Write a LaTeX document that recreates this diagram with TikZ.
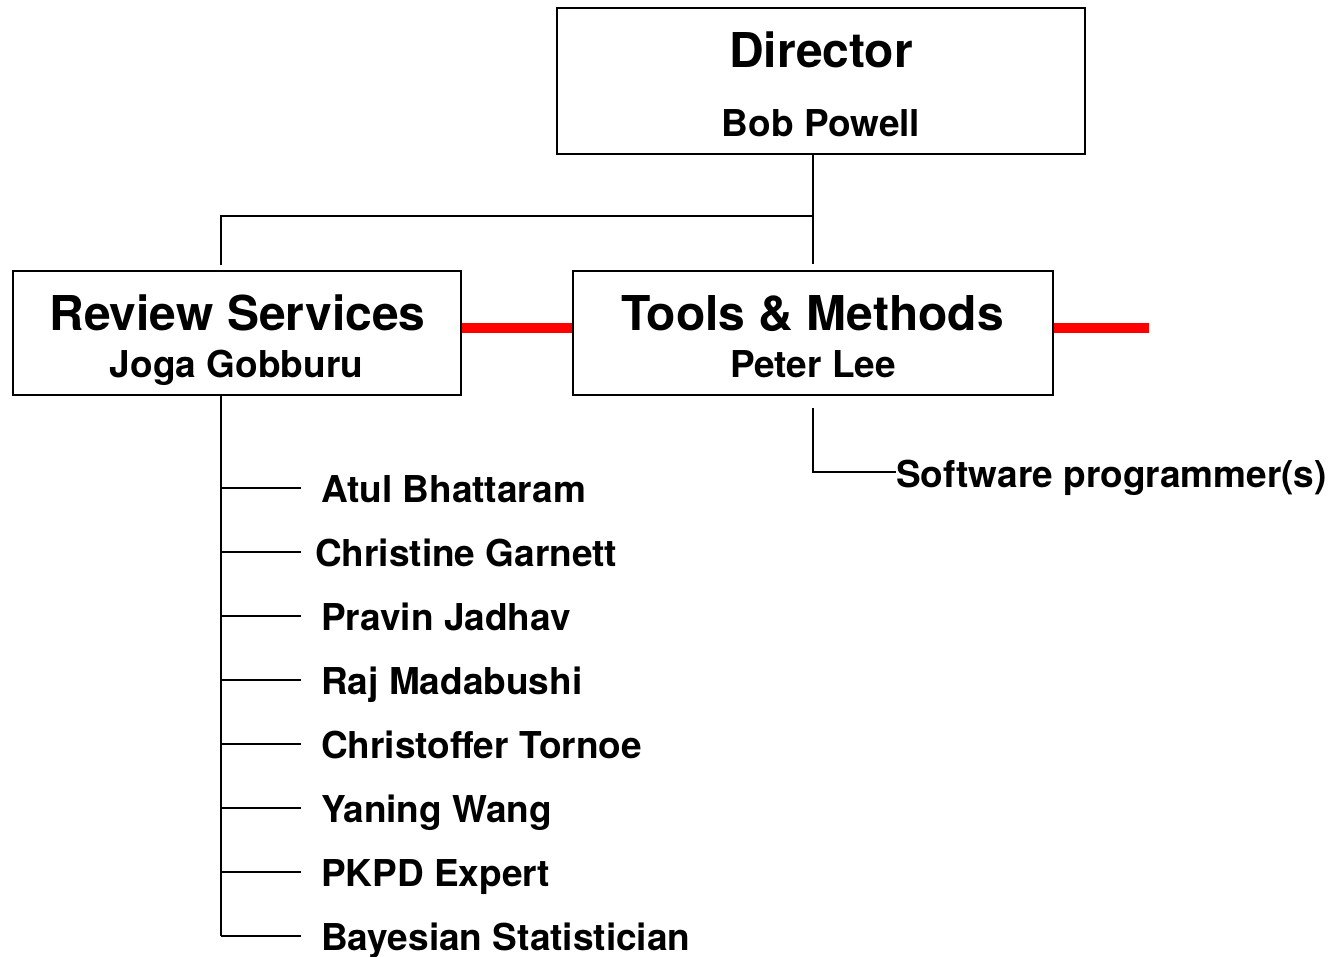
\documentclass[tikz,border=0pt]{standalone}
\usepackage{fontspec}
\setmainfont{TeX Gyre Heros}
\tikzset{
  unit/.style={shape=rectangle,draw=black,line width=1.5pt,inner sep=0pt},
  title/.style={font=\bfseries\fontsize{48pt}{56pt}\selectfont,inner sep=0pt,anchor=base},
  head/.style={font=\bfseries\fontsize{37pt}{44pt}\selectfont,inner sep=0pt,anchor=base},
  member/.style={font=\bfseries\fontsize{37pt}{44pt}\selectfont,inner sep=0pt,anchor=base west},
  link/.style={draw=black,line width=1.3pt},
  redbar/.style={draw=red,line width=10pt}
}

\begin{document}
\begin{tikzpicture}[x=1pt,y=-1pt]
\useasboundingbox (0,0) rectangle (1332,956);

% boxes
\node[unit,minimum width=528pt,minimum height=146pt] (dir) at (821,81) {};
\node[unit,minimum width=448pt,minimum height=124pt] (rev) at (237,333) {};
\node[unit,minimum width=480pt,minimum height=124pt] (tools) at (813,333) {};

% box texts
\node[title] (dirtitle) at (821,67) {Director};
\node[head] (dirname) at (821,136) {Bob Powell};
\node[title] (revtitle) at (237.5,330) {Review Services};
\node[head] (revname) at (236.5,377) {Joga Gobburu};
\node[title] (toolstitle) at (812.5,330) {Tools \& Methods};
\node[head] (toolsname) at (813,377) {Peter Lee};

% tree from the director
\coordinate (hub) at (813,216);
\coordinate (revtop) at (221,265);
\path [link] (dir.south -| hub) -- ([yshift=6pt]tools.north);
\path [link] (revtop) |- (hub);

% red bars
\coordinate (redend) at (1149,328);
\path [redbar] (rev.east |- redend) -- (tools.west |- redend);
\path [redbar] (tools.east |- redend) -- (redend);

% tools staff
\node[member] (soft) at (896,487) {Software programmer(s)};
\coordinate (toolsfoot) at (813,408);
\path [link] (toolsfoot) |- ([yshift=15pt]soft.base west);

% review staff
\coordinate (revbus) at (221,395);
\coordinate (revend) at (221,936);
\path [link] (revbus) -- (revend);
\foreach \who/\dx [count=\i] in {Atul Bhattaram/321,Christine Garnett/315,Pravin Jadhav/321,Raj Madabushi/321,Christoffer Tornoe/321,Yaning Wang/321,PKPD Expert/321,Bayesian Statistician/321}{
  \node[member] (m\i) at (\dx,438+64*\i) {\who};
  \coordinate (b\i) at (221,424+64*\i);
  \coordinate (t\i) at (301,424+64*\i);
  \path [link] (b\i) -- (t\i);
}
\end{tikzpicture}
\end{document}
